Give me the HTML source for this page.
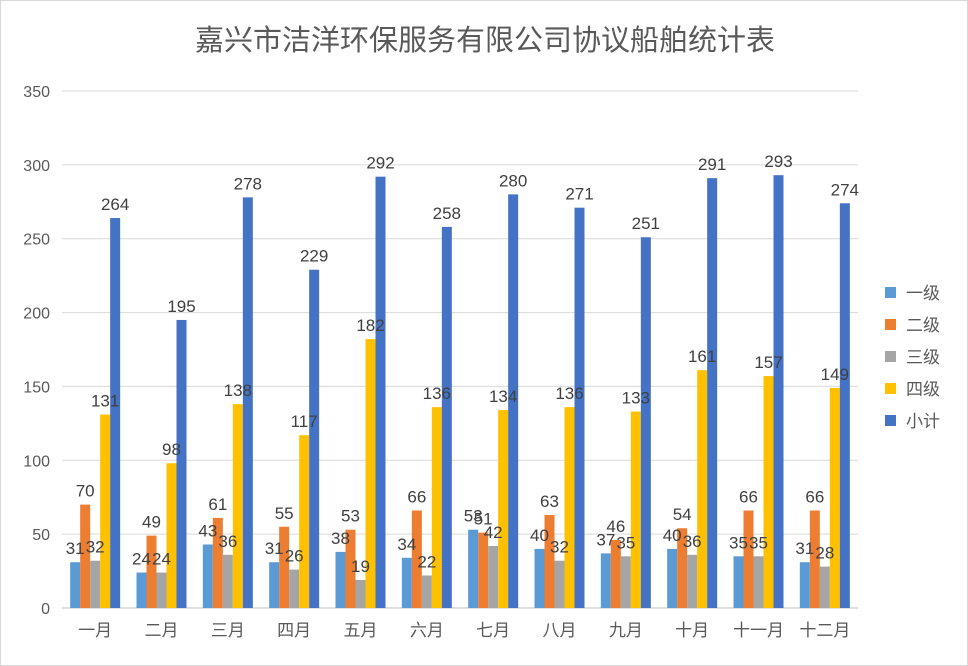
<!DOCTYPE html>
<html><head><meta charset="utf-8"><style>
body{margin:0;background:#fff}
svg{display:block;font-family:"Liberation Sans","Noto Sans CJK SC",sans-serif}
</style></head><body>
<svg id="chart" width="968" height="666" xmlns="http://www.w3.org/2000/svg">
<rect x="0.5" y="0.5" width="967" height="665" fill="#fff" stroke="#d9d9d9"/>
<text x="485" y="50" text-anchor="middle" font-size="29" fill="#595959">嘉兴市洁洋环保服务有限公司协议船舶统计表</text>
<g id="grid"></g><g id="bars"></g><g id="labels"></g><g id="legend"></g>
</svg>
<script>
const categories=["一月","二月","三月","四月","五月","六月","七月","八月","九月","十月","十一月","十二月"];
const seriesNames=["一级","二级","三级","四级","小计"];
const s1=[31,24,43,31,38,34,53,40,37,40,35,31];
const s2=[70,49,61,55,53,66,51,63,46,54,66,66];
const s3=[32,24,36,26,19,22,42,32,35,36,35,28];
const s4=[131,98,138,117,182,136,134,136,133,161,157,149];
const s5=[264,195,278,229,292,258,280,271,251,291,293,274];
const ticks=[0,50,100,150,200,250,300,350];
const series=[s1,s2,s3,s4,s5];
const colors=["#5B9BD5","#ED7D31","#A5A5A5","#FFC000","#4472C4"];
const NS="http://www.w3.org/2000/svg";
const x0=62,x1=858,y0=608,y1=91,ymax=350;
const gw=(x1-x0)/categories.length,bw=10,pad=(gw-bw*5)/2;
const y=v=>y0-(v/ymax)*(y0-y1);
function mk(tag,attrs,parent,text){const e=document.createElementNS(NS,tag);for(const k in attrs)e.setAttribute(k,attrs[k]);if(text!==undefined)e.textContent=text;parent.appendChild(e);return e;}
const grid=document.getElementById('grid'),bars=document.getElementById('bars'),labels=document.getElementById('labels'),legend=document.getElementById('legend');
ticks.forEach(t=>{
  const l=mk('line',{x1:x0,x2:x1,y1:y(t),y2:y(t),stroke:t===0?'#bfbfbf':'#d9d9d9','stroke-width':1},grid);
  
  
  const tx=mk('text',{x:50,y:y(t)+6,'text-anchor':'end','font-size':16,fill:'#595959'},grid,String(t));
  
  
});
categories.forEach((c,i)=>{
  const gx=x0+i*gw;
  const tx=mk('text',{x:gx+gw/2,y:y0+28,'text-anchor':'middle','font-size':17,fill:'#595959'},labels,c);
  
  
  series.forEach((s,j)=>{
    const bx=gx+pad+j*bw;
    const r=mk('rect',{x:bx,y:y(s[i]),width:bw,height:y0-y(s[i]),fill:colors[j]},bars);
    
    
    const t=mk('text',{x:bx+bw/2,y:y(s[i])-8,'text-anchor':'middle','font-size':17,fill:'#404040'},labels,String(s[i]));
    
    
  });
});
seriesNames.forEach((n,j)=>{
  const ly=293+j*32;
  const r=mk('rect',{x:885,y:ly-6,width:11,height:11,fill:colors[j]},legend);
  
  
  const t=mk('text',{x:906,y:ly+6,'font-size':17,fill:'#595959'},legend,n);
  
  
});
</script>
</body></html>
